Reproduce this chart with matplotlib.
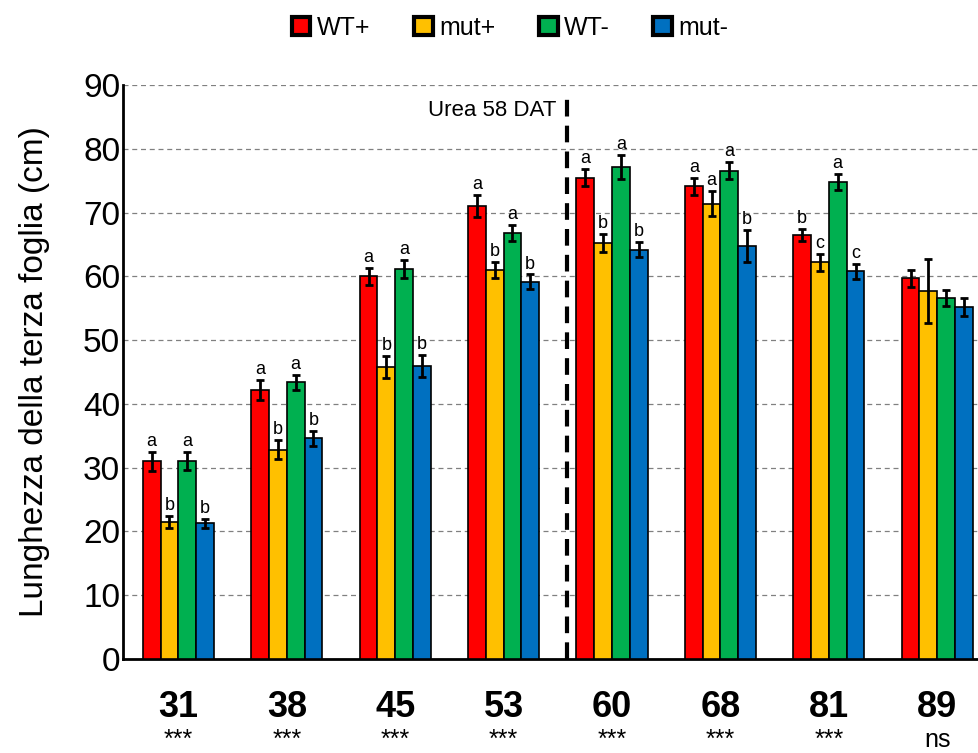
import numpy as np
import matplotlib.pyplot as plt
from matplotlib.patches import Patch

plt.rcParams['font.family'] = ['Liberation Sans', 'DejaVu Sans']

# days after transplant
days = ['31', '38', '45', '53', '60', '68', '81', '89']
signif = ['***', '***', '***', '***', '***', '***', '***', 'ns']

series = ['WT+', 'mut+', 'WT-', 'mut-']
colors = ['#FF0000', '#FFC000', '#00B050', '#0070C0']

wt_plus = [31.0, 42.2, 60.0, 71.0, 75.5, 74.1, 66.5, 59.7]
mut_plus = [21.5, 32.8, 45.8, 61.0, 65.3, 71.4, 62.2, 57.7]
wt_minus = [31.0, 43.4, 61.2, 66.8, 77.2, 76.6, 74.8, 56.6]
mut_minus = [21.3, 34.6, 46.0, 59.2, 64.2, 64.8, 60.8, 55.2]

err_wt_plus = [1.5, 1.6, 1.3, 1.7, 1.3, 1.3, 1.0, 1.3]
err_mut_plus = [1.0, 1.5, 1.7, 1.3, 1.4, 2.0, 1.3, 5.0]
err_wt_minus = [1.4, 1.2, 1.4, 1.3, 1.9, 1.4, 1.2, 1.3]
err_mut_minus = [0.7, 1.2, 1.7, 1.1, 1.2, 2.5, 1.2, 1.4]

letters_wt_plus = ['a', 'a', 'a', 'a', 'a', 'a', 'b', '']
letters_mut_plus = ['b', 'b', 'b', 'b', 'b', 'a', 'c', '']
letters_wt_minus = ['a', 'a', 'a', 'a', 'a', 'a', 'a', '']
letters_mut_minus = ['b', 'b', 'b', 'b', 'b', 'b', 'c', '']

values = [wt_plus, mut_plus, wt_minus, mut_minus]
errors = [err_wt_plus, err_mut_plus, err_wt_minus, err_mut_minus]
letters = [letters_wt_plus, letters_mut_plus, letters_wt_minus, letters_mut_minus]

fig = plt.figure(figsize=(9.79, 7.53), dpi=100)
ax = fig.add_axes([0.1256, 0.1248, 0.8744, 0.7622])

x = np.arange(len(days))
w = 0.164
for i in range(4):
    pos = x + (i - 1.5) * w
    ax.bar(pos, values[i], w, color=colors[i], edgecolor='black', linewidth=1.2,
           yerr=errors[i], capsize=3.2, error_kw={'elinewidth': 2, 'capthick': 2}, zorder=3)
    for p, v, e, t in zip(pos, values[i], errors[i], letters[i]):
        if t:
            ax.text(p, v + e + 0.3, t, ha='center', va='bottom', fontsize=13, zorder=4)

ax.set_ylim(0, 90)
ax.set_yticks(range(0, 91, 10))
ax.set_xlim(-0.511, 7.385)
ax.yaxis.grid(True, linestyle='--', color='#808080', linewidth=0.9, dashes=(4, 3))
ax.set_axisbelow(True)
for s in ['top', 'right']:
    ax.spines[s].set_visible(False)
ax.spines['left'].set_linewidth(2)
ax.spines['bottom'].set_linewidth(2)
ax.tick_params(axis='y', labelsize=24, length=0, pad=2)
ax.tick_params(axis='x', length=0, pad=22)
ax.set_xticks(x)
ax.set_xticklabels(days, fontsize=26, fontweight='bold')
ax.set_ylabel('Lunghezza della terza foglia (cm)', fontsize=24, labelpad=24)

# significance row at the very bottom of the figure
for xi, s in zip(x, signif):
    xf = fig.transFigure.inverted().transform(ax.transData.transform((xi, 0)))[0]
    fig.text(xf, 0.001, s, ha='center', va='bottom', fontsize=18)

# urea application
ax.axvline(3.585, color='black', linewidth=3, linestyle=(0, (4, 2.2)), ymax=0.985, zorder=5)
ax.text(3.49, 86.0, 'Urea 58 DAT', ha='right', va='center', fontsize=16)

handles = [Patch(facecolor=c, edgecolor='black', linewidth=3) for c in colors]
fig.legend(handles, series, loc='center', bbox_to_anchor=(0.521, 0.963), ncol=4, frameon=False,
           fontsize=18, handlelength=0.75, handleheight=0.75, handletextpad=0.25, columnspacing=1.75)

fig.savefig('out.png', dpi=100)
